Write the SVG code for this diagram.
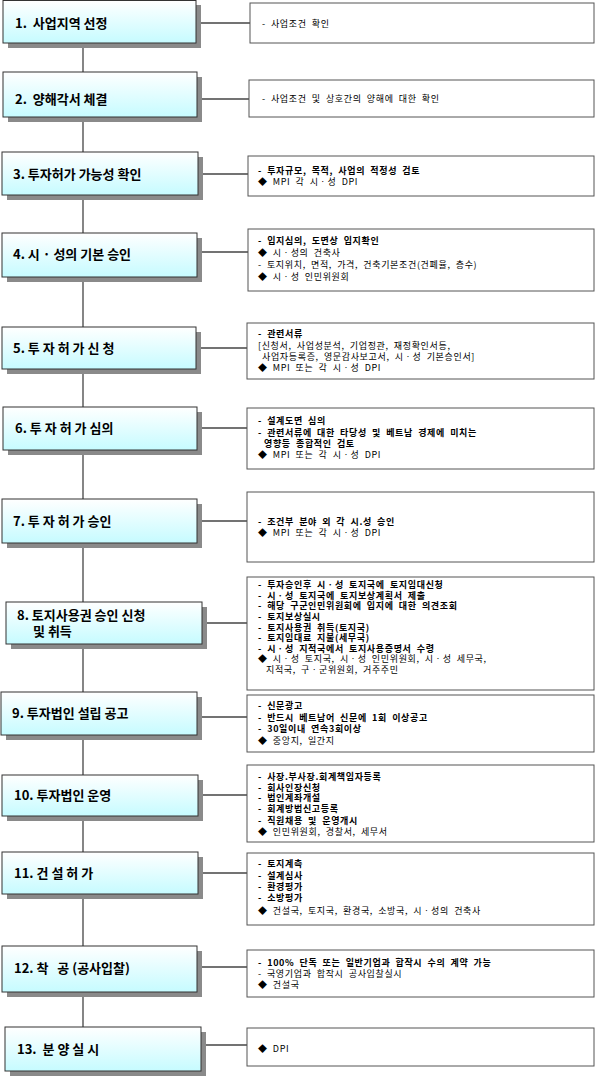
<svg xmlns="http://www.w3.org/2000/svg" width="595" height="1076" viewBox="0 0 595 1076">
<defs>
<linearGradient id="g" x1="0" y1="0" x2="0" y2="1">
<stop offset="0" stop-color="#ffffff"/>
<stop offset="1" stop-color="#c6fbff"/>
</linearGradient>
<style>
.sh{fill:#8a8a8a}
.bx{fill:url(#g);stroke:#333;stroke-width:1}
.rb{fill:#fff;stroke:#555;stroke-width:1}
.lb{font-family:"Noto Sans CJK KR","Noto Sans",sans-serif;font-size:13px;font-weight:700;fill:#000}
.t{font-family:"Noto Sans CJK KR","Noto Sans",sans-serif;font-size:9px;letter-spacing:0.65px;word-spacing:2.5px;fill:#000}
.b{font-weight:700}
.cn{stroke:#444;stroke-width:1.3;fill:none}
</style>
</defs>
<rect width="595" height="1076" fill="#fff"/>
<g id="connectors">
<line class="cn" x1="83" y1="43" x2="83" y2="1027"/>
<line class="cn" x1="196" y1="23" x2="250" y2="23"/>
<line class="cn" x1="197" y1="99" x2="249" y2="99"/>
<line class="cn" x1="198" y1="174" x2="248" y2="174"/>
<line class="cn" x1="197" y1="252" x2="248" y2="252"/>
<line class="cn" x1="196" y1="348" x2="247" y2="348"/>
<line class="cn" x1="197" y1="428" x2="247" y2="428"/>
<line class="cn" x1="197" y1="521" x2="247" y2="521"/>
<line class="cn" x1="202" y1="623" x2="247" y2="623"/>
<line class="cn" x1="197" y1="717" x2="247" y2="717"/>
<line class="cn" x1="198" y1="795" x2="247" y2="795"/>
<line class="cn" x1="198" y1="873" x2="247" y2="873"/>
<line class="cn" x1="197" y1="967" x2="247" y2="967"/>
<line class="cn" x1="201" y1="1045" x2="247" y2="1045"/>
</g>
<g id="step1">
<rect class="sh" x="8" y="5" width="193" height="43"/>
<rect class="bx" x="3" y="0.5" width="193" height="42.5"/>
<text class="lb" x="15" y="28" xml:space="preserve">1.  사업지역 선정</text>
</g>
<g id="desc1">
<rect class="rb" x="250" y="3" width="344" height="40"/>
<text class="t" x="262" y="27">- 사업조건 확인</text>
</g>
<g id="step2">
<rect class="sh" x="8" y="77" width="194" height="45"/>
<rect class="bx" x="3" y="72" width="194" height="45"/>
<text class="lb" x="15" y="104" xml:space="preserve">2.  양해각서 체결</text>
</g>
<g id="desc2">
<rect class="rb" x="249" y="80" width="345" height="37"/>
<text class="t" x="262" y="102">- 사업조건 및 상호간의 양해에 대한 확인</text>
</g>
<g id="step3">
<rect class="sh" x="7" y="157" width="196" height="43"/>
<rect class="bx" x="2" y="152" width="196" height="43"/>
<text class="lb" x="13" y="179">3. 투자허가 가능성 확인</text>
</g>
<g id="desc3">
<rect class="rb" x="248" y="156" width="346" height="40"/>
<text class="t b" x="258" y="174">- 투자규모, 목적, 사업의 적정성 검토</text>
<text class="t" x="258" y="185">◆ MPI 각 시ㆍ성 DPI</text>
</g>
<g id="step4">
<rect class="sh" x="7" y="238" width="195" height="44"/>
<rect class="bx" x="2" y="233" width="195" height="44"/>
<text class="lb" x="13" y="259">4. 시 · 성의 기본 승인</text>
</g>
<g id="desc4">
<rect class="rb" x="248" y="229" width="346" height="62"/>
<text class="t b" x="258" y="244">- 입지심의, 도면상 입지확인</text>
<text class="t" x="258" y="256">◆ 시ㆍ성의 건축사</text>
<text class="t" x="258" y="268">- 토지위치, 면적, 가격, 건축기본조건(건폐율, 층수)</text>
<text class="t" x="258" y="280">◆ 시ㆍ성 인민위원회</text>
</g>
<g id="step5">
<rect class="sh" x="7" y="332" width="194" height="42"/>
<rect class="bx" x="2" y="327" width="194" height="42"/>
<text class="lb" x="13" y="353">5. 투 자 허 가 신 청</text>
</g>
<g id="desc5">
<rect class="rb" x="247" y="323" width="347" height="56"/>
<text class="t b" x="258" y="337">- 관련서류</text>
<text class="t" x="258" y="349">[신청서, 사업성분석, 기업정관, 재정확인서등,</text>
<text class="t" x="262" y="360">사업자등록증, 영문감사보고서, 시ㆍ성 기본승인서]</text>
<text class="t" x="258" y="371">◆ MPI 또는 각 시ㆍ성 DPI</text>
</g>
<g id="step6">
<rect class="sh" x="8" y="412" width="194" height="43"/>
<rect class="bx" x="3" y="407" width="194" height="43"/>
<text class="lb" x="15" y="433">6. 투 자 허 가 심의</text>
</g>
<g id="desc6">
<rect class="rb" x="247" y="408" width="347" height="61"/>
<text class="t b" x="258" y="424">- 설계도면 심의</text>
<text class="t b" x="258" y="436">- 관련서류에 대한 타당성 및 베트남 경제에 미치는</text>
<text class="t b" x="264" y="447">영향등 종합적인 검토</text>
<text class="t" x="258" y="458">◆ MPI 또는 각 시ㆍ성 DPI</text>
</g>
<g id="step7">
<rect class="sh" x="7" y="504" width="195" height="44"/>
<rect class="bx" x="2" y="499" width="195" height="44"/>
<text class="lb" x="13" y="526">7. 투 자 허 가 승인</text>
</g>
<g id="desc7">
<rect class="rb" x="247" y="492" width="347" height="70"/>
<text class="t b" x="258" y="525">- 조건부 분야 외 각 시.성 승인</text>
<text class="t" x="258" y="536">◆ MPI 또는 각 시ㆍ성 DPI</text>
</g>
<g id="step8">
<rect class="sh" x="11" y="607" width="196" height="42"/>
<rect class="bx" x="6" y="602" width="196" height="42"/>
<text class="lb" x="17" y="620">8. 토지사용권 승인 신청</text>
<text class="lb" x="33" y="636">및 취득</text>
</g>
<g id="desc8">
<rect class="rb" x="247" y="577" width="347" height="113"/>
<text class="t b" x="258" y="588">- 투자승인후 시ㆍ성 토지국에 토지임대신청</text>
<text class="t b" x="258" y="599">- 시ㆍ성 토지국에 토지보상계획서 제출</text>
<text class="t b" x="258" y="609">- 해당 구군인민위원회에 입지에 대한 의견조회</text>
<text class="t b" x="258" y="620">- 토지보상실시</text>
<text class="t b" x="258" y="631">- 토지사용권 취득(토지국)</text>
<text class="t b" x="258" y="641">- 토지임대료 지불(세무국)</text>
<text class="t b" x="258" y="652">- 시ㆍ성 지적국에서 토지사용증명서 수령</text>
<text class="t" x="258" y="662">◆ 시ㆍ성 토지국, 시ㆍ성 인민위원회, 시ㆍ성 세무국,</text>
<text class="t" x="266" y="673">지적국, 구ㆍ군위원회, 거주주민</text>
</g>
<g id="step9">
<rect class="sh" x="6" y="697" width="196" height="43"/>
<rect class="bx" x="1" y="692" width="196" height="43"/>
<text class="lb" x="12" y="718">9. 투자법인 설립 공고</text>
</g>
<g id="desc9">
<rect class="rb" x="247" y="695" width="347" height="57"/>
<text class="t b" x="258" y="709">- 신문광고</text>
<text class="t b" x="258" y="721">- 반드시 베트남어 신문에 1회 이상공고</text>
<text class="t b" x="258" y="732">- 30일이내 연속3회이상</text>
<text class="t" x="258" y="744">◆ 중앙지, 일간지</text>
</g>
<g id="step10">
<rect class="sh" x="7" y="780" width="196" height="41"/>
<rect class="bx" x="2" y="775" width="196" height="41"/>
<text class="lb" x="14" y="800">10. 투자법인 운영</text>
</g>
<g id="desc10">
<rect class="rb" x="247" y="765" width="347" height="77"/>
<text class="t b" x="258" y="780">- 사장.부사장.회계책임자등록</text>
<text class="t b" x="258" y="791">- 회사인장신청</text>
<text class="t b" x="258" y="801">- 법인계좌개설</text>
<text class="t b" x="258" y="812">- 회계방법신고등록</text>
<text class="t b" x="258" y="824">- 직원채용 및 운영개시</text>
<text class="t" x="258" y="835">◆ 인민위원회, 경찰서, 세무서</text>
</g>
<g id="step11">
<rect class="sh" x="7" y="857" width="196" height="42"/>
<rect class="bx" x="2" y="852" width="196" height="42"/>
<text class="lb" x="14" y="878">11. 건 설 허 가</text>
</g>
<g id="desc11">
<rect class="rb" x="247" y="853" width="347" height="72"/>
<text class="t b" x="258" y="867">- 토지계측</text>
<text class="t b" x="258" y="879">- 설계심사</text>
<text class="t b" x="258" y="890">- 환경평가</text>
<text class="t b" x="258" y="901">- 소방평가</text>
<text class="t" x="258" y="914">◆ 건설국, 토지국, 환경국, 소방국, 시ㆍ성의 건축사</text>
</g>
<g id="step12">
<rect class="sh" x="7" y="951" width="195" height="46"/>
<rect class="bx" x="2" y="946" width="195" height="46"/>
<text class="lb" x="14" y="973" xml:space="preserve">12. 착   공 (공사입찰)</text>
</g>
<g id="desc12">
<rect class="rb" x="247" y="950" width="347" height="47"/>
<text class="t b" x="258" y="966">- 100% 단독 또는 일반기업과 합작시 수의 계약 가능</text>
<text class="t" x="258" y="977">- 국영기업과 합작시 공사입찰실시</text>
<text class="t" x="258" y="988">◆ 건설국</text>
</g>
<g id="step13">
<rect class="sh" x="10" y="1032" width="196" height="44"/>
<rect class="bx" x="5" y="1027" width="196" height="44"/>
<text class="lb" x="17" y="1054" xml:space="preserve">13.  분 양 실 시</text>
</g>
<g id="desc13">
<rect class="rb" x="247" y="1028" width="347" height="38"/>
<text class="t" x="258" y="1052">◆ DPI</text>
</g>
</svg>
